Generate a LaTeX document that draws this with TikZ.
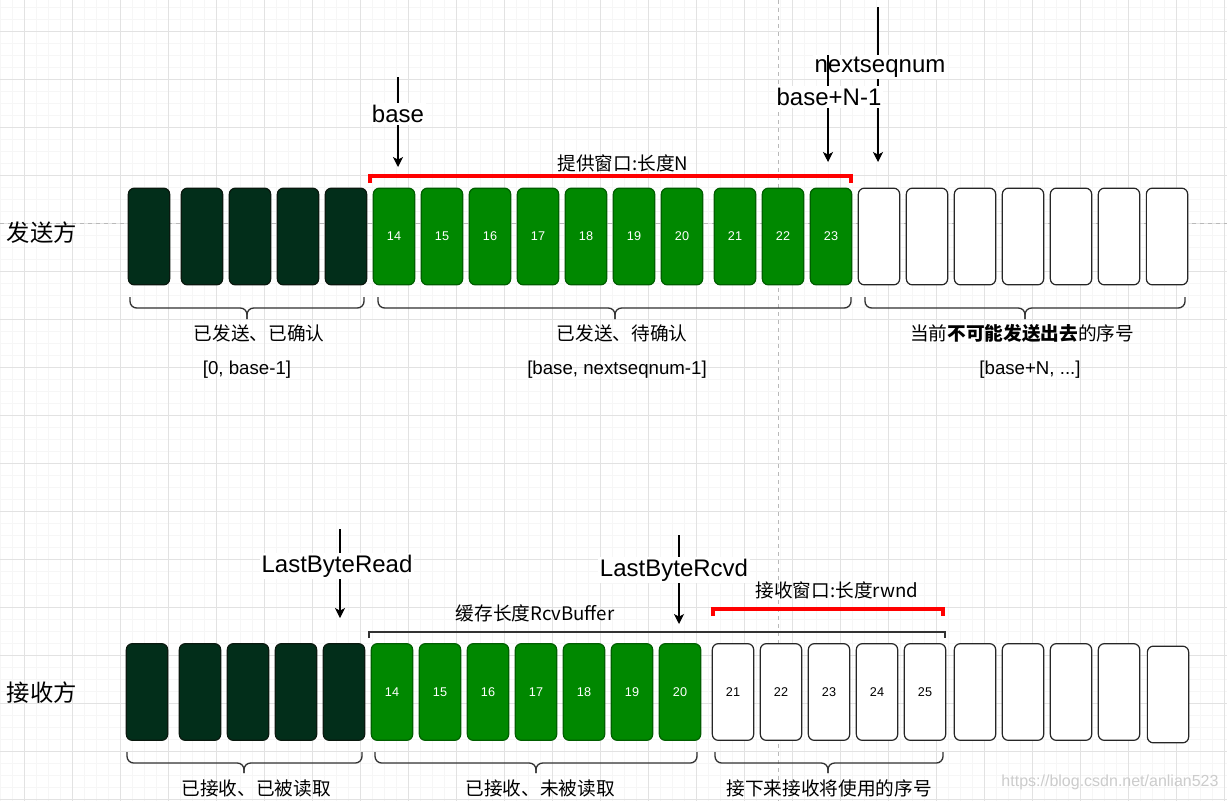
\documentclass[tikz,border=0pt]{standalone}
\usepackage{fontspec}
\setmainfont{Liberation Sans}
\newfontfamily\cjk{Noto Sans CJK SC}
\usetikzlibrary{arrows.meta}
\definecolor{darkcell}{RGB}{2,46,26}
\definecolor{darkline}{RGB}{10,25,15}
\definecolor{greencell}{RGB}{0,136,0}
\definecolor{greenline}{RGB}{0,95,0}
\definecolor{minorgrid}{RGB}{246,246,246}
\definecolor{majorgrid}{RGB}{226,226,226}
\definecolor{guide}{RGB}{185,185,185}
\definecolor{bracecol}{RGB}{50,50,50}
\tikzset{
  cell/.style={draw, rounded corners=4.5pt, inner sep=0pt, minimum width=31pt, minimum height=72.5pt, line width=0.9pt, font=\fontsize{9.5}{10}\selectfont},
  darkbox/.style={cell, fill=darkcell, draw=darkline},
  greenbox/.style={cell, fill=greencell, draw=greenline, text=white},
  whitebox/.style={cell, fill=white, draw=black!85},
  biglabel/.style={fill=white, inner sep=1.5pt, font=\fontsize{18}{20}\selectfont},
  sidelabel/.style={inner sep=0pt, font=\cjk\fontsize{17.5}{19}\selectfont},
  cjklabel/.style={inner sep=1pt, font=\cjk\fontsize{14}{16}\selectfont},
  latlabel/.style={inner sep=1pt, font=\fontsize{14}{16}\selectfont},
  pointer/.style={line width=0.8pt, -{Stealth[length=7.5pt,width=7.5pt,inset=2pt]}},
  plainline/.style={line width=0.8pt},
  curly/.style={draw=bracecol, line width=1pt, rounded corners=5pt},
  redbracket/.style={draw=red, line width=2.3pt},
  buffbracket/.style={draw=bracecol, line width=1pt},
  guideline/.style={draw=guide, line width=0.6pt, dash pattern=on 3pt off 3pt}
}
\begin{document}
\begin{tikzpicture}[x=0.75pt,y=-0.75pt]
\useasboundingbox (0,0) rectangle (1227,801);
\fill[white] (0,0) rectangle (1227,801);
% grid
\foreach \i in {0,...,102} {
  \draw[minorgrid, line width=0.6pt] ({0.3+12*\i},0) -- ({0.3+12*\i},801);
}
\foreach \i in {0,...,66} {
  \draw[minorgrid, line width=0.6pt] (0,{7.7+12*\i}) -- (1227,{7.7+12*\i});
}
\foreach \i in {0,...,25} {
  \draw[majorgrid, line width=0.75pt] ({24.3+48*\i},0) -- ({24.3+48*\i},801);
}
\foreach \i in {0,...,16} {
  \draw[majorgrid, line width=0.75pt] (0,{31.7+48*\i}) -- (1227,{31.7+48*\i});
}
% guide lines
\draw[guideline] (0,223) -- (1227,223);
\draw[guideline] (778,0) -- (778,801);

% ---------------- sender ----------------
\node[sidelabel] (sendlbl) at (42,233) {发送方};
\foreach \x [count=\k] in {128,181,229,277,325} {
  \node[darkbox] (sd\k) at (\x+21,236.5) {};
}
\foreach \x/\n in {373/14,421/15,469/16,517/17,565/18,613/19,661/20,714/21,762/22,810/23} {
  \node[greenbox] (sg\n) at (\x+21,236.5) {\n};
}
\foreach \x [count=\k] in {858,906,954,1002,1050,1098,1146} {
  \node[whitebox] (sw\k) at (\x+21,236.5) {};
}

% red window bracket
\draw[redbracket] (370,183) -- (370,176) -- (851,176) -- (851,183);
\node[cjklabel] (winlbl) at (623,163) {提供窗口:长度N};

% base pointer
\coordinate (basetop) at (398,77);
\coordinate (basetip) at (398,167);
\draw[pointer] (basetop) -- (basetip);
\node[biglabel] (baselbl) at (398,114) {base};

% nextseqnum pointer
\coordinate (nsntop) at (878,7);
\coordinate (nsntip) at (878,162);
\draw[pointer] (nsntop) -- (nsntip);
\node[biglabel] (nsnlbl) at (880,67) {nextseqnum};

% base+N-1 pointer
\coordinate (bntop) at (828,55);
\coordinate (bntip) at (828,162);
\draw[pointer] (bntop) -- (bntip);
\node[biglabel] (bnlbl) at (829,97) {base+N-1};

% braces sender
\draw[curly] (130,297) |- (247,308) -- (247,319);
\draw[curly] (364,297) |- (247,308) -- (247,319);
\draw[curly] (378,297) |- (615,308) -- (615,319);
\draw[curly] (851,297) |- (615,308) -- (615,319);
\draw[curly] (865,297) |- (1025,308) -- (1025,319);
\draw[curly] (1185,297) |- (1025,308) -- (1025,319);

\node[cjklabel] (t1) at (259,333) {已发送、已确认};
\node[latlabel] (t2) at (247,370) {[0, base-1]};
\node[cjklabel] (t3) at (622,333) {已发送、待确认};
\node[latlabel] (t4) at (617,370) {[base, nextseqnum-1]};
\node[cjklabel] (t5) at (1022,333) {当前{\bfseries 不可能发送出去}的序号};
\node[latlabel] (t6) at (1030,370) {[base+N, ...]};

% ---------------- receiver ----------------
\node[sidelabel] (rcvlbl) at (42,693) {接收方};
\foreach \x [count=\k] in {126,179,227,275,323} {
  \node[darkbox] (rd\k) at (\x+21,692) {};
}
\foreach \x/\n in {371/14,419/15,467/16,515/17,563/18,611/19,659/20} {
  \node[greenbox] (rg\n) at (\x+21,692) {\n};
}
\foreach \x/\n in {712/21,760/22,808/23,856/24,904/25} {
  \node[whitebox] (rw\n) at (\x+21,692) {\n};
}
\foreach \x [count=\k] in {954,1002,1050,1098} {
  \node[whitebox] (re\k) at (\x+21,692) {};
}
\node[whitebox] (re5) at (1168,694.5) {};

% buffer bracket
\draw[buffbracket] (369,638) -- (369,632) -- (945,632) -- (945,638);
\node[cjklabel] (buflbl) at (535,613) {缓存长度RcvBuffer};

% rwnd bracket
\draw[redbracket] (713,616) -- (713,609) -- (943,609) -- (943,616);
\node[cjklabel] (rwndlbl) at (837,590) {接收窗口:长度rwnd};

% LastByteRead pointer
\coordinate (lbrtop) at (340,529);
\coordinate (lbrtip) at (340,618);
\draw[pointer] (lbrtop) -- (lbrtip);
\node[biglabel] (lbrlbl) at (337,566) {LastByteRead};

% LastByteRcvd pointer
\coordinate (lbvtop) at (679,535);
\coordinate (lbvtip) at (679,624);
\draw[pointer] (lbvtop) -- (lbvtip);
\node[biglabel] (lbvlbl) at (674,570) {LastByteRcvd};

% braces receiver
\draw[curly] (127,752) |- (244,763) -- (244,773);
\draw[curly] (362,752) |- (244,763) -- (244,773);
\draw[curly] (375,752) |- (536,763) -- (536,773);
\draw[curly] (697,752) |- (536,763) -- (536,773);
\draw[curly] (715,752) |- (828,763) -- (828,773);
\draw[curly] (943,752) |- (828,763) -- (828,773);

\node[cjklabel] (r1) at (256,788) {已接收、已被读取};
\node[cjklabel] (r2) at (540,788) {已接收、未被读取};
\node[cjklabel] (r3) at (829,788) {接下来接收将使用的序号};

% watermark
\node[inner sep=0pt, text=black!20, font=\fontsize{12}{14}\selectfont] (wm) at (1110,782) {https://blog.csdn.net/anlian523};
\end{tikzpicture}
\end{document}
